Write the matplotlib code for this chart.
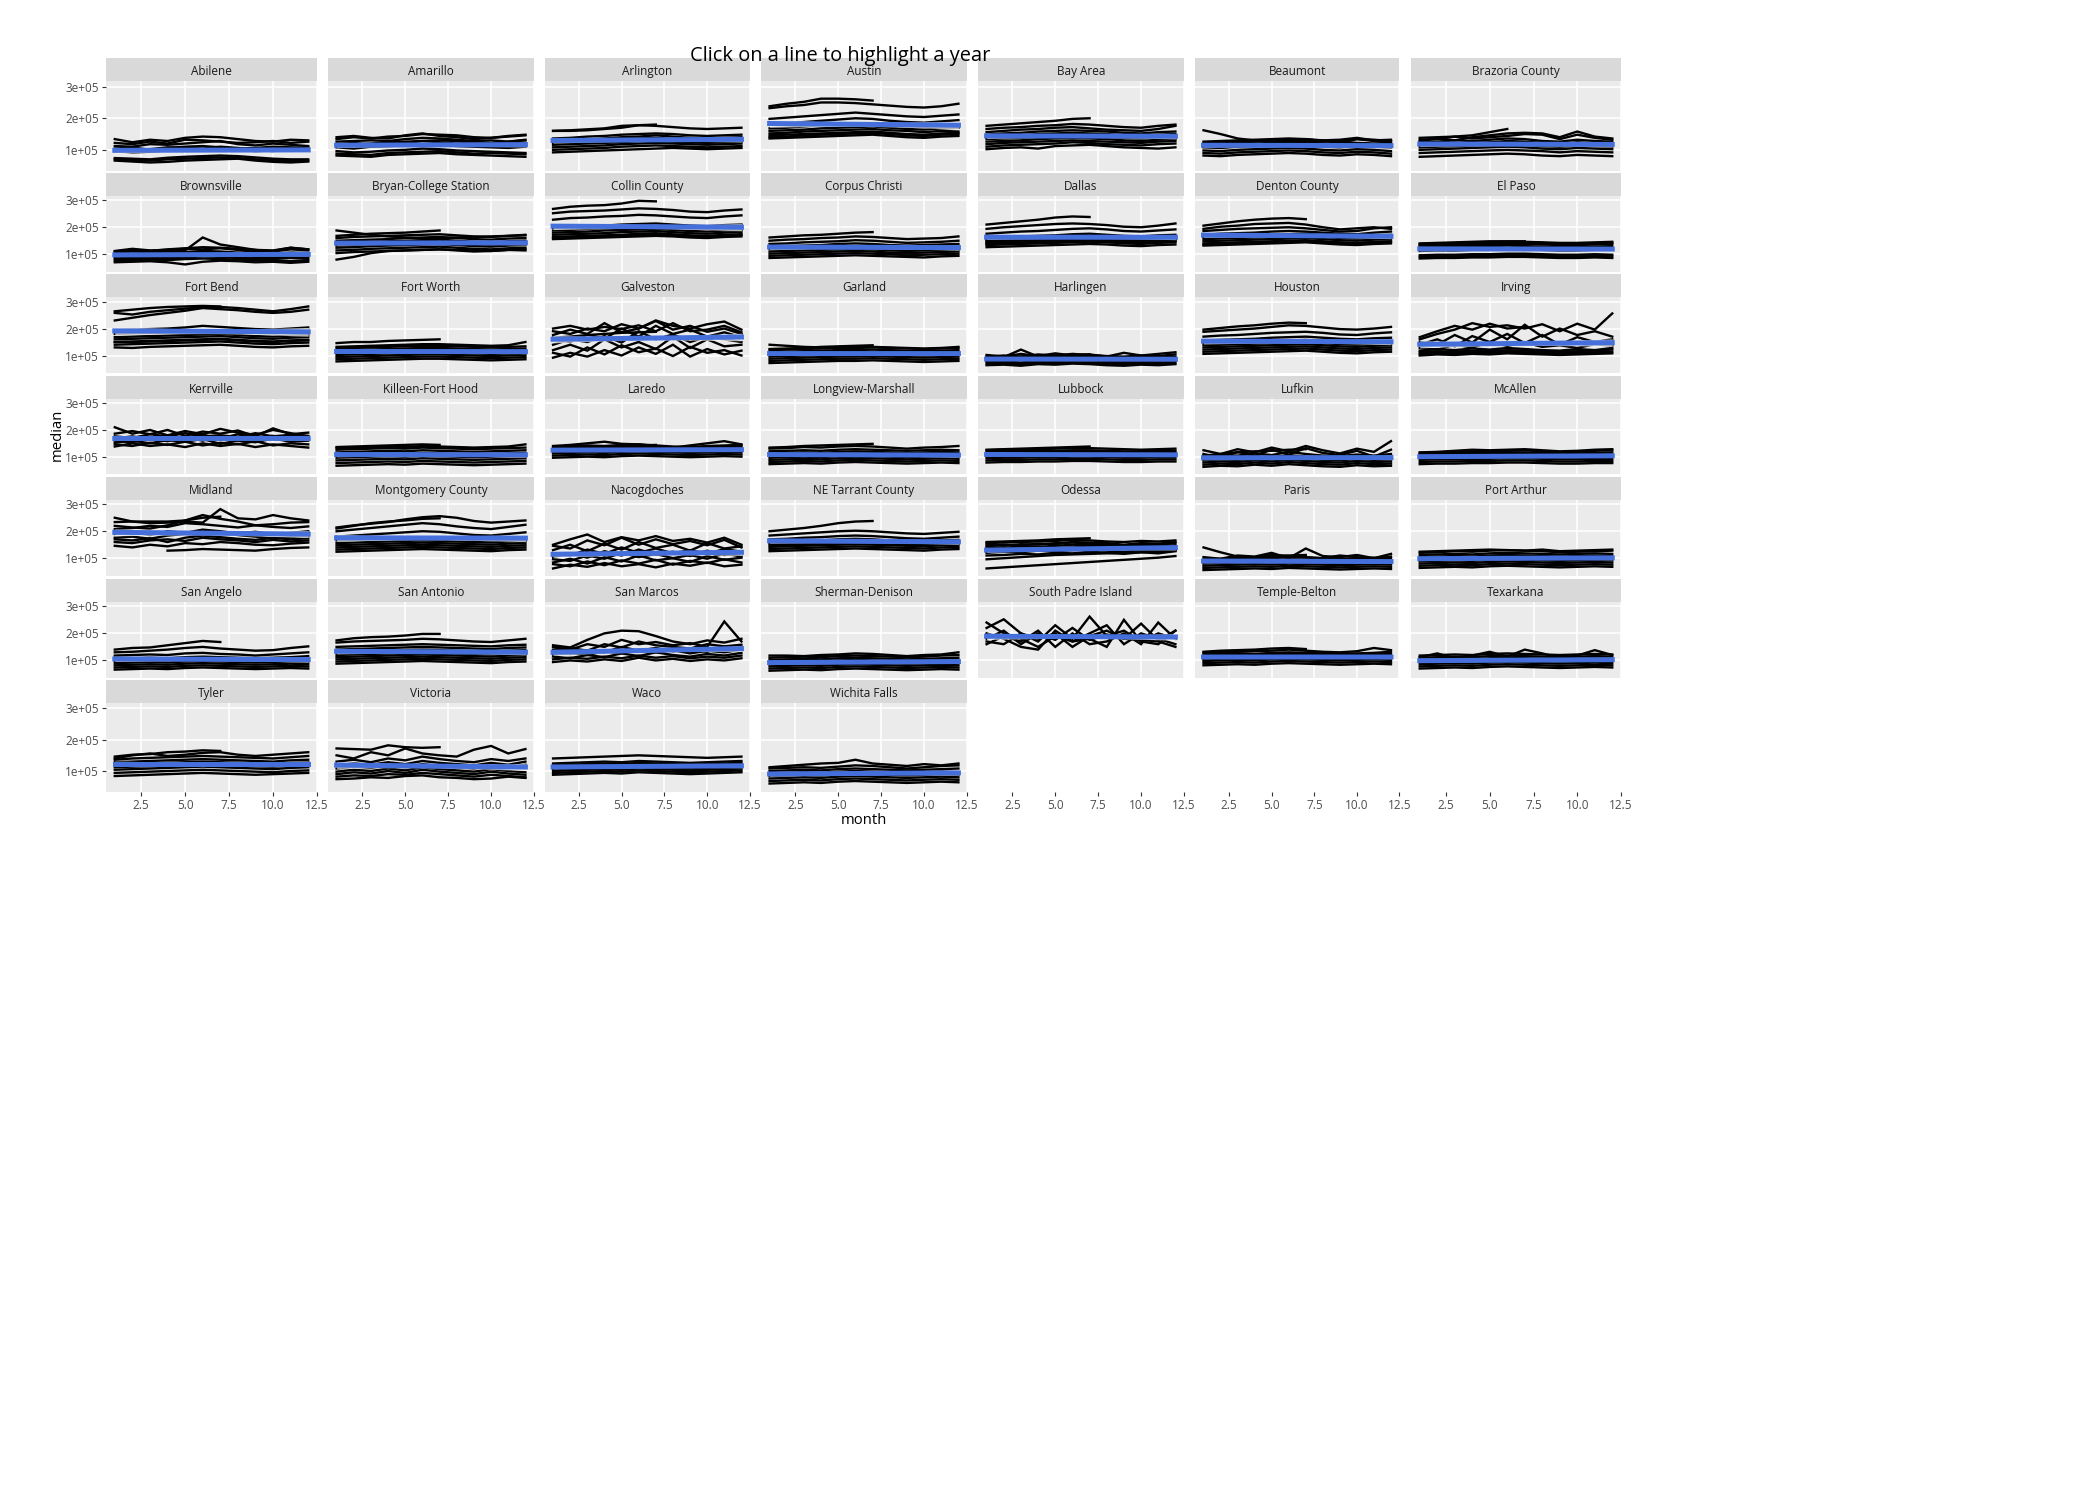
import numpy as np
import matplotlib
matplotlib.use("Agg")
import matplotlib.pyplot as plt

plt.rcParams['font.family'] = ['Open Sans', 'DejaVu Sans']

# median sale price per month, one string per year, in thousands of dollars
# ("-" = no value for that month)
abilene = [
    "66 63 60 62 66 68 70 72 66 62 60 63",
    "70 68 66 70 72 74 76 74 70 68 64 66",
    "74 72 70 75 78 80 82 80 76 72 70 70",
    "96 92 94 98 100 98 102 100 96 98 100 102",
    "104 108 100 106 110 112 108 104 106 110 108 106",
    "112 110 118 116 120 124 128 118 114 120 116 112",
    "122 118 126 120 132 130 126 122 124 128 122 126",
    "134 124 132 128 138 142 140 134 128 126 132 130",
    "100 98 102 108 106 104 110 106 100 96 104 108",
]
amarillo = [
    "82 80 78 84 86 88 90 86 84 82 80 78",
    "88 86 84 90 92 94 96 92 88 90 88 86",
    "96 92 94 98 100 104 102 98 96 94 92 90",
    "108 104 110 112 114 118 116 112 110 108 106 110",
    "118 122 116 124 126 128 124 120 122 118 120 122",
    "126 128 130 128 134 138 136 132 128 130 126 132",
    "134 140 136 142 144 150 148 146 140 138 142 146",
    "140 144 138 136 146 152 144 140 134 138 144 148",
    "116 118 120 124 122 128 130 128 124 122 126 130",
]
arlington = [
    "92 94 96 98 100 102 104 106 104 102 104 106",
    "100 102 104 106 110 112 114 112 110 108 110 112",
    "108 110 112 114 118 120 122 120 118 116 118 120",
    "116 118 120 122 124 128 130 126 124 122 124 126",
    "122 124 126 128 132 136 138 134 130 128 130 132",
    "128 130 132 136 140 142 146 142 138 136 138 140",
    "136 138 142 144 148 150 152 150 146 144 146 148",
    "160 160 162 166 170 178 176 172 168 166 168 170",
    "160 162 165 168 176 178 180",
]
austin = [
    "136 138 140 142 144 146 148 144 140 138 142 144",
    "140 142 146 148 150 152 154 150 146 144 148 150",
    "146 148 150 152 154 156 158 154 150 148 152 154",
    "152 154 158 160 162 164 166 162 160 156 160 158",
    "160 162 164 168 170 172 174 170 166 164 168 170",
    "168 170 174 178 180 184 182 178 174 172 176 178",
    "180 184 188 192 196 200 198 192 188 186 190 194",
    "198 202 206 210 214 218 214 210 206 204 208 212",
    "232 238 242 250 250 248 244 240 236 234 238 246",
    "238 246 252 262 262 260 256",
]
bay_area = [
    "102 106 108 104 112 114 116 112 108 106 104 108",
    "110 114 116 118 120 124 122 118 116 114 118 120",
    "118 122 124 126 128 130 128 126 124 122 126 128",
    "126 128 130 134 136 138 136 134 130 128 132 134",
    "134 136 138 140 144 146 144 140 138 136 140 142",
    "140 144 146 150 152 154 152 150 146 144 148 150",
    "148 152 154 158 160 162 160 158 154 152 156 158",
    "156 160 164 166 170 172 168 164 162 160 166 176",
    "166 170 172 176 178 182 180 176 172 170 176 180",
    "176 180 184 188 192 198 200",
]
beaumont = [
    "162 150 136 130 128 126 128 130 126 122 120 122",
    "82 80 84 86 88 90 88 84 82 86 84 80",
    "90 88 92 94 96 98 96 92 90 94 92 88",
    "98 96 100 102 104 106 104 100 98 102 100 96",
    "108 106 110 112 114 116 112 110 108 112 110 108",
    "116 114 118 120 122 126 124 120 116 120 118 116",
    "122 124 126 128 130 132 128 126 130 134 128 126",
    "126 128 130 132 134 136 134 130 132 138 130 132",
    "118 120 124 126 130 128 134 128 122 134 132 128",
]
brazoria = [
    "78 80 82 84 86 88 86 82 80 84 82 80",
    "90 92 94 96 98 100 98 96 92 96 94 92",
    "100 102 104 106 108 110 108 104 102 106 104 102",
    "108 110 112 114 116 118 116 112 110 114 112 110",
    "116 118 120 122 124 128 126 122 118 124 120 118",
    "124 126 130 128 132 136 134 128 126 132 128 126",
    "132 134 142 136 140 144 150 148 134 148 138 132",
    "128 136 130 140 146 152 154 152 140 158 142 136",
    "138 140 142 146 156 166",
]
brownsville = [
    "70 72 74 70 62 72 76 74 70 72 68 72",
    "76 78 80 78 82 84 82 80 78 76 74 78",
    "82 84 86 84 88 92 90 86 84 82 86 84",
    "88 90 92 90 96 100 98 94 90 88 92 90",
    "94 96 98 96 100 108 104 100 98 96 100 98",
    "100 102 104 106 108 112 110 106 104 102 106 104",
    "106 110 108 112 114 162 136 126 116 110 118 114",
    "110 116 112 118 122 126 124 120 116 114 124 118",
    "112 120 114 116 120 118 122 116 108 112 124 118",
]
bryan = [
    "80 90 104 112 114 116 118 116 114 112 116 118",
    "104 108 110 112 114 116 118 114 110 112 116 114",
    "114 116 120 122 124 126 128 124 120 118 122 124",
    "124 126 130 132 134 136 138 134 130 128 132 134",
    "132 134 138 140 142 144 146 142 138 136 140 142",
    "140 142 146 148 150 152 154 150 146 144 148 150",
    "150 152 154 156 160 162 164 160 156 154 158 160",
    "160 164 166 168 170 172 174 170 166 164 168 172",
    "168 172 176 178 180 184 188",
    "188 180 172 166 162 158 160 162 164 166 168 170",
]
collin = [
    "156 158 160 162 164 166 168 166 162 160 164 166",
    "160 162 164 166 170 172 174 170 166 164 168 172",
    "164 166 168 170 172 176 178 174 170 168 172 174",
    "172 174 176 178 182 184 186 182 178 176 180 182",
    "180 182 184 188 190 192 194 190 186 184 188 190",
    "188 190 194 196 200 202 204 200 196 194 198 200",
    "198 200 204 206 210 212 214 210 206 204 208 210",
    "228 234 236 240 242 246 244 240 236 234 240 244",
    "252 258 260 262 266 270 268 264 258 256 262 266",
    "268 276 280 282 288 298 296",
]
corpus = [
    "86 88 90 92 94 96 94 92 90 88 92 94",
    "94 96 98 100 102 104 102 100 96 98 100 102",
    "102 104 106 108 110 112 110 106 104 106 108 110",
    "110 112 114 116 118 120 118 114 112 114 116 118",
    "120 122 124 126 128 130 128 124 122 124 126 128",
    "128 130 132 134 138 140 138 134 132 134 136 138",
    "138 140 144 146 148 152 150 146 142 144 146 150",
    "150 154 156 160 162 166 164 160 156 158 160 166",
    "162 166 170 172 176 180 182",
]
dallas = [
    "126 128 130 132 134 136 138 136 132 130 134 136",
    "134 136 138 140 142 144 146 144 140 138 142 144",
    "138 140 142 144 146 148 150 148 144 142 146 148",
    "140 142 144 146 148 150 152 150 146 144 148 150",
    "146 148 150 152 154 156 158 156 152 150 154 156",
    "148 150 152 154 156 158 160 158 154 152 156 158",
    "152 154 156 158 160 162 164 162 158 156 160 162",
    "160 162 166 168 170 174 176 172 168 166 170 172",
    "176 180 184 186 190 194 196 192 186 184 188 192",
    "194 200 204 208 212 214 212 208 202 200 206 214",
    "210 216 222 228 236 240 238",
]
denton = [
    "132 134 136 138 140 142 144 140 136 134 138 140",
    "136 138 140 142 144 146 148 146 142 140 144 146",
    "140 142 144 146 148 150 152 148 144 142 146 148",
    "148 150 152 154 156 158 160 156 152 150 154 156",
    "156 158 160 162 164 166 168 164 160 158 162 164",
    "164 166 168 170 172 174 176 172 168 166 170 172",
    "172 176 178 180 184 186 184 180 176 174 180 184",
    "186 190 194 196 198 200 196 190 184 186 196 200",
    "194 202 206 212 214 216 210 200 192 196 200 194",
    "206 214 222 228 232 234 230",
]
el_paso = [
    "84 86 86 88 88 90 90 88 86 86 88 86",
    "90 92 92 94 94 96 96 94 92 92 94 92",
    "96 98 98 100 100 102 102 100 98 98 100 98",
    "112 114 114 116 116 118 118 116 114 114 116 118",
    "124 126 126 128 130 132 130 128 126 126 128 130",
    "130 132 132 134 136 138 138 136 134 134 136 138",
    "134 136 138 140 142 144 144 142 138 138 140 142",
    "138 140 140 142 144 146 146 144 142 142 144 146",
    "140 142 144 146 148 148 148",
]
fort_bend = [
    "130 128 132 134 136 138 140 136 132 130 134 136",
    "140 142 144 146 148 150 152 148 144 142 146 148",
    "150 150 152 154 156 158 160 156 152 150 154 156",
    "150 152 154 156 158 160 162 158 154 152 156 158",
    "160 162 164 166 168 170 172 168 164 162 166 168",
    "168 170 172 174 176 178 180 176 172 170 174 176",
    "180 182 184 186 188 190 192 188 184 182 186 188",
    "194 196 198 200 204 210 206 202 198 196 200 204",
    "230 240 250 258 266 276 272 268 262 258 262 270",
    "258 252 262 268 274 278 280 276 270 264 272 282",
    "264 270 276 280 282 284 282",
]
fort_worth = [
    "78 80 82 84 86 88 88 86 84 82 84 86",
    "86 88 90 92 94 96 96 94 92 90 92 94",
    "94 96 98 100 102 104 104 102 100 98 100 102",
    "102 104 106 108 110 112 112 110 108 106 108 110",
    "110 112 114 116 118 120 120 118 116 114 116 118",
    "118 120 122 124 126 128 128 126 124 122 124 126",
    "126 128 130 132 134 136 136 134 132 130 132 134",
    "132 134 136 138 140 142 142 140 138 136 138 150",
    "146 150 150 154 156 158 160",
]
galveston = [
    "92 110 96 120 100 130 106 140 96 124 104 118",
    "110 96 130 104 138 112 126 98 132 110 120 100",
    "120 140 118 160 130 150 124 170 128 160 134 140",
    "140 160 150 172 148 190 160 178 150 170 160 150",
    "160 150 178 162 200 170 210 180 196 170 186 168",
    "176 196 180 220 186 200 228 196 210 188 200 180",
    "190 180 200 190 216 200 230 210 200 216 226 196",
    "200 210 196 206 198 212 190 220 190 196 210 186",
    "166 170 176 180 184 186 188",
]
garland = [
    "72 74 76 78 80 80 82 80 78 76 78 80",
    "80 82 84 86 88 88 90 88 86 84 86 88",
    "88 90 92 94 96 96 98 96 94 92 94 96",
    "96 98 100 102 104 104 106 104 102 100 102 104",
    "104 106 108 110 112 112 114 112 110 108 110 112",
    "112 114 116 118 120 120 122 120 118 116 118 120",
    "120 122 124 126 128 128 130 128 126 124 126 128",
    "140 136 132 130 128 130 132 130 128 126 128 132",
    "124 126 128 132 134 136 138",
]
harlingen = [
    "64 66 62 68 66 70 68 64 62 66 64 68",
    "70 72 68 74 72 76 74 70 68 72 70 74",
    "76 78 74 80 78 82 80 76 74 78 76 80",
    "80 84 86 82 84 88 86 82 80 84 82 86",
    "86 88 84 90 88 92 90 86 84 88 86 90",
    "92 94 122 96 94 98 96 92 90 94 92 96",
    "96 100 96 104 100 106 102 98 96 100 98 104",
    "102 96 106 98 108 100 104 96 110 100 106 112",
    "90 92 96 98 100 102 104",
]
houston = [
    "106 108 110 112 114 116 118 114 110 108 112 114",
    "114 116 118 120 122 124 126 122 118 116 120 122",
    "122 124 126 128 130 132 134 130 126 124 128 130",
    "130 132 134 136 138 140 142 138 134 132 136 138",
    "138 140 142 144 146 148 150 146 142 140 144 146",
    "146 148 150 152 154 156 158 154 150 148 152 154",
    "156 158 160 162 166 168 170 166 162 160 164 166",
    "170 174 176 180 184 186 188 184 178 176 182 186",
    "188 192 196 200 206 212 210 204 198 196 200 206",
    "196 202 208 212 218 222 220",
]
irving = [
    "100 104 102 106 104 108 106 104 102 104 106 108",
    "106 110 108 112 110 114 112 110 108 110 112 114",
    "112 116 114 118 116 120 118 116 114 116 118 122",
    "118 124 120 126 122 128 124 120 118 124 120 128",
    "128 122 140 130 150 136 148 132 138 128 142 136",
    "140 160 134 172 150 180 146 176 140 168 150 160",
    "150 140 176 148 196 160 214 170 200 176 190 170",
    "160 180 196 220 206 212 200 216 190 218 196 256",
    "168 190 210 196 218 200 206",
]
kerrville = [
    "138 150 140 146 136 150 140 148 136 146 140 134",
    "146 140 152 144 156 142 152 146 158 142 150 146",
    "152 160 150 162 156 166 148 160 154 168 156 160",
    "160 154 168 158 172 160 176 166 162 170 160 166",
    "168 176 164 178 170 182 168 184 172 178 166 174",
    "176 170 184 176 188 176 180 174 188 176 182 178",
    "210 186 200 180 196 184 204 190 182 200 188 176",
    "186 196 184 200 178 194 186 198 176 206 184 190",
]
killeen = [
    "66 68 70 72 70 74 72 70 68 70 72 74",
    "76 78 80 82 80 84 82 80 78 80 82 84",
    "86 88 90 92 90 94 92 90 88 90 92 94",
    "96 98 100 102 100 104 102 100 98 100 102 104",
    "106 108 110 112 110 114 112 110 108 110 112 114",
    "116 118 120 122 120 124 122 120 118 120 122 124",
    "126 128 130 132 130 134 132 130 128 130 132 134",
    "132 134 136 138 136 140 138 136 134 136 138 146",
    "136 138 140 142 144 146 144",
]
laredo = [
    "96 98 100 98 102 104 102 100 98 100 102 100",
    "104 106 108 106 110 112 110 108 106 108 110 108",
    "112 114 116 114 118 120 118 116 114 116 118 116",
    "118 120 122 120 124 126 124 122 120 122 124 126",
    "124 126 128 126 130 132 130 128 126 128 130 132",
    "130 132 134 132 136 138 136 132 130 134 136 138",
    "136 140 142 140 144 146 142 138 136 140 142 144",
    "140 144 150 156 148 146 140 134 142 150 158 146",
    "128 132 136 138 140 142 144",
]
longview = [
    "72 74 76 74 78 80 78 76 74 76 78 76",
    "80 82 84 82 86 88 86 84 82 84 86 84",
    "88 90 92 90 94 96 94 92 90 92 94 92",
    "96 98 100 98 102 104 102 100 98 100 102 100",
    "104 106 108 106 110 112 110 108 106 108 110 108",
    "112 114 116 114 118 120 118 116 114 116 118 116",
    "120 122 124 122 126 128 126 124 122 124 126 124",
    "130 132 136 134 138 140 138 134 130 134 136 140",
    "134 136 140 142 144 146 148",
]
lubbock = [
    "78 80 80 82 82 84 84 82 80 80 82 82",
    "86 88 88 90 90 92 92 90 88 88 90 90",
    "94 96 96 98 98 100 100 98 96 96 98 98",
    "100 102 102 104 104 106 106 104 102 102 104 104",
    "106 108 108 110 110 112 112 110 108 108 110 110",
    "112 114 114 116 116 118 118 116 114 114 116 116",
    "118 120 120 122 122 124 124 122 120 120 122 122",
    "124 126 126 128 130 132 132 130 128 126 128 130",
    "126 128 130 132 134 136 138",
]
lufkin = [
    "62 66 64 70 66 72 68 64 62 68 64 66",
    "70 74 72 78 74 80 76 72 70 76 72 74",
    "78 82 80 86 82 88 84 80 78 84 80 82",
    "86 90 88 94 90 96 92 88 86 92 88 90",
    "94 98 96 102 98 106 100 96 94 100 96 98",
    "102 106 104 112 106 118 110 104 102 108 104 110",
    "110 96 118 104 126 108 132 114 106 122 100 126",
    "124 110 128 116 134 120 140 124 112 130 118 158",
    "104 110 116 120 122 126 128",
]
mcallen = [
    "72 74 74 76 76 78 78 76 74 74 76 76",
    "80 82 82 84 84 86 86 84 82 82 84 84",
    "88 90 90 92 92 94 94 92 90 90 92 92",
    "96 98 98 100 100 102 102 100 98 98 100 100",
    "104 106 106 108 108 110 110 108 106 106 108 108",
    "110 112 112 114 114 116 116 114 112 112 114 116",
    "114 116 118 120 118 122 124 120 116 118 122 124",
    "116 118 122 126 124 126 128 124 120 122 126 128",
]
midland = [
    "146 140 150 144 156 152 160 156 150 148 154 158",
    "160 156 166 170 164 176 170 166 160 168 162 166",
    "170 166 174 160 176 184 178 172 168 176 170 174",
    "176 180 172 184 190 186 194 186 180 174 178 184",
    "190 196 186 200 194 206 200 192 198 188 194 200",
    "208 212 220 216 230 226 220 214 222 216 212 218",
    "250 236 230 232 236 232 282 248 244 260 248 240",
    "220 214 210 222 240 260 246 236 222 226 232 234",
    "234 236 236 236 240 250 254",
    "- - - 128 130 134 132 130 128 134 138 140",
]
montgomery = [
    "124 126 128 130 132 134 132 130 128 126 130 132",
    "132 134 136 138 140 142 140 138 136 134 138 140",
    "140 142 144 146 148 150 148 146 144 142 146 148",
    "148 150 152 154 156 158 156 154 152 150 154 156",
    "156 158 160 162 164 166 164 162 160 158 162 164",
    "166 168 170 172 174 178 176 172 168 166 170 174",
    "180 184 188 192 196 200 198 192 186 184 190 196",
    "200 206 212 218 224 230 226 218 212 208 216 224",
    "214 222 228 234 244 252 256 250 238 232 236 240",
    "210 220 230 236 240 246 248",
]
nacogdoches = [
    "62 76 68 82 70 78 66 80 72 84 70 76",
    "78 70 88 74 92 80 94 76 90 82 96 84",
    "84 98 80 104 88 110 92 100 86 108 94 102",
    "96 90 110 98 120 104 116 100 112 98 118 106",
    "104 118 102 126 110 132 114 124 108 128 112 120",
    "114 110 132 116 140 120 136 118 130 116 134 124",
    "130 150 126 154 132 160 138 150 128 156 136 144",
    "146 136 166 148 176 150 170 152 164 148 168 140",
    "150 170 188 160 178 166 182 164 172 158 176 150",
]
ne_tarrant = [
    "126 128 130 132 134 136 134 132 130 128 132 134",
    "134 136 138 140 142 144 142 140 138 136 140 142",
    "142 144 146 148 150 152 150 148 146 144 148 150",
    "148 150 152 154 156 158 156 154 152 150 154 156",
    "154 156 158 160 162 164 162 160 158 156 160 162",
    "160 162 164 166 170 172 170 166 164 162 166 168",
    "170 172 176 178 182 184 182 178 174 172 176 180",
    "184 188 192 196 200 202 200 196 192 190 194 198",
    "200 206 212 220 230 236 238",
]
odessa = [
    "62 66 70 74 78 82 86 90 94 98 102 108",
    "96 100 104 108 112 114 116 118 120 122 124 128",
    "110 112 116 114 120 118 124 120 116 122 118 126",
    "120 124 122 128 126 130 132 128 124 130 128 132",
    "130 132 136 134 138 140 142 138 136 140 138 142",
    "140 138 144 142 146 150 148 144 142 146 144 148",
    "150 146 152 150 156 158 154 150 148 152 150 156",
    "156 158 160 162 164 168 166 162 160 164 162 166",
    "160 162 164 166 170 172 174",
    "144 150 148 154 152 160 158 156 150 156 154 160",
]
paris = [
    "56 58 60 62 60 64 62 60 58 60 62 60",
    "64 66 68 70 68 72 70 68 66 68 70 68",
    "72 74 76 78 76 80 78 76 74 76 78 76",
    "80 82 84 86 84 88 86 84 82 84 86 84",
    "88 90 92 94 92 96 94 92 90 92 94 92",
    "96 98 100 102 100 104 102 100 98 100 102 100",
    "140 122 106 104 112 108 104 100 110 104 98 106",
    "104 98 110 106 120 100 136 108 104 112 100 116",
    "92 96 100 104 108 110 112",
]
port_arthur = [
    "64 66 68 66 70 72 70 68 66 68 70 68",
    "72 74 76 74 78 80 78 76 74 76 78 76",
    "80 82 84 82 86 88 86 84 82 84 86 84",
    "88 90 92 90 94 96 94 92 90 92 94 92",
    "96 98 100 98 102 104 102 100 98 100 102 100",
    "104 106 108 106 110 112 110 108 106 108 110 108",
    "112 114 116 114 118 120 118 116 114 116 118 116",
    "120 122 126 124 128 130 128 126 122 124 126 128",
    "124 126 128 130 132 130 128 132 126 128 130 132",
]
san_angelo = [
    "66 68 70 68 72 74 72 70 68 70 72 70",
    "74 76 78 76 80 82 80 78 76 78 80 78",
    "82 84 86 84 88 90 88 86 84 86 88 86",
    "90 92 94 92 96 98 96 94 92 94 96 94",
    "98 100 102 100 104 106 104 102 100 102 104 102",
    "106 108 110 108 112 114 112 110 108 110 112 116",
    "118 120 122 120 126 128 124 122 118 122 126 130",
    "130 132 136 140 146 150 144 140 136 138 146 152",
    "140 146 148 156 164 172 168",
]
san_antonio = [
    "88 90 92 94 96 98 96 94 92 90 94 96",
    "96 98 100 102 104 106 104 102 100 98 102 104",
    "104 106 108 110 112 114 112 110 108 106 110 112",
    "112 114 116 118 120 122 120 118 116 114 118 120",
    "120 122 124 126 128 130 128 126 124 122 126 128",
    "130 132 134 136 138 140 138 136 134 132 136 138",
    "140 142 144 146 148 150 148 146 144 142 146 148",
    "150 152 154 156 158 160 158 156 154 152 156 158",
    "166 170 172 174 176 180 178 174 170 168 174 180",
    "174 182 186 188 192 198 198",
]
san_marcos = [
    "94 100 96 104 98 110 100 106 98 104 100 108",
    "104 110 106 114 108 118 110 116 108 114 110 118",
    "114 108 120 112 126 116 130 120 114 124 118 128",
    "122 128 120 134 126 140 130 138 126 136 130 140",
    "130 124 138 130 150 136 146 134 140 132 150 144",
    "140 146 136 160 148 170 156 150 144 160 152 158",
    "150 140 160 150 176 160 168 156 164 150 244 170",
    "156 148 176 200 210 208 190 170 160 174 166 180",
]
sherman = [
    "62 64 66 64 68 70 68 66 64 66 68 66",
    "70 72 74 72 76 78 76 74 72 74 76 74",
    "78 80 82 80 84 86 84 82 80 82 84 82",
    "86 88 90 88 92 94 92 90 88 90 92 90",
    "94 96 98 96 100 102 100 98 96 98 100 98",
    "102 104 106 104 108 110 108 106 104 106 108 110",
    "110 112 114 112 116 118 116 114 112 114 118 120",
    "118 118 116 120 122 126 124 120 116 120 122 130",
]
south_padre = [
    "220 252 200 170 230 180 262 190 210 170 200 180",
    "180 210 160 200 176 220 176 196 180 236 174 210",
    "240 200 180 150 190 170 200 230 160 200 180 160",
    "160 190 170 210 150 200 160 170 200 160 240 180",
    "200 180 150 140 210 170 180 150 250 170 160 210",
    "170 160 200 180 200 150 190 210 180 176 170 150",
]
temple = [
    "82 84 86 84 88 90 88 86 84 86 88 86",
    "90 92 94 92 96 98 96 94 92 94 96 94",
    "98 100 102 100 104 106 104 102 100 102 104 102",
    "104 106 108 106 110 112 110 108 106 108 110 108",
    "110 112 114 112 116 118 116 114 112 114 116 114",
    "116 118 120 118 122 124 122 120 118 120 122 124",
    "122 124 126 124 128 130 128 126 124 126 128 132",
    "128 130 132 134 136 140 136 132 130 134 146 138",
    "132 136 138 140 144 146 142",
]
texarkana = [
    "70 72 74 72 76 78 76 74 72 74 76 74",
    "78 80 82 80 84 86 84 82 80 82 84 82",
    "86 88 90 88 92 94 92 90 88 90 92 90",
    "94 96 98 96 100 102 100 98 96 98 100 98",
    "102 104 106 104 108 110 108 106 104 106 108 106",
    "110 112 114 112 116 118 116 114 112 114 116 114",
    "118 120 122 120 124 126 124 122 120 122 124 122",
    "112 126 108 118 132 114 140 126 110 118 138 120",
]
tyler = [
    "84 86 88 90 92 94 92 90 88 90 92 94",
    "94 96 98 100 102 104 102 100 98 96 100 102",
    "104 106 108 110 112 114 112 110 108 106 110 112",
    "112 114 116 118 120 122 120 118 116 114 118 120",
    "120 122 124 126 128 130 128 126 124 122 126 128",
    "128 130 132 134 136 138 136 134 132 130 134 136",
    "136 140 142 144 146 148 146 144 142 140 144 148",
    "140 150 156 148 152 158 160 152 148 152 156 160",
    "146 152 154 160 162 166 164",
]
victoria = [
    "74 76 80 78 84 86 80 78 74 76 82 78",
    "82 86 84 90 88 94 90 86 82 88 84 80",
    "90 96 92 100 94 104 98 94 90 98 92 88",
    "98 104 100 108 102 112 106 102 98 106 100 96",
    "108 114 110 118 112 122 116 112 108 116 110 120",
    "118 124 120 128 122 132 126 122 118 126 120 130",
    "130 136 128 140 134 146 138 132 128 138 132 140",
    "150 140 160 150 172 156 150 146 168 180 156 170",
    "172 170 168 182 176 174 176",
]
waco = [
    "88 90 92 94 92 96 94 92 90 92 94 96",
    "94 96 98 100 98 102 100 98 96 98 100 102",
    "100 102 104 106 104 108 106 104 102 104 106 108",
    "106 108 110 112 110 114 112 110 108 110 112 114",
    "112 114 116 118 116 120 118 116 114 116 118 120",
    "118 120 122 124 122 126 124 122 120 122 124 126",
    "124 126 128 130 128 132 130 128 126 128 130 132",
    "140 142 144 146 148 150 148 146 144 142 144 146",
]
wichita = [
    "60 62 64 62 66 68 66 64 62 64 66 64",
    "68 70 72 70 74 76 74 72 70 72 74 72",
    "76 78 80 78 82 84 82 80 78 80 82 80",
    "84 86 88 86 90 92 90 88 86 88 90 88",
    "92 94 96 94 98 100 98 96 94 96 98 96",
    "100 102 104 102 106 108 106 104 102 104 106 108",
    "108 110 112 110 114 118 116 112 108 112 116 118",
    "112 116 120 124 126 136 124 120 116 122 118 124",
]

cities = ["Abilene", "Amarillo", "Arlington", "Austin", "Bay Area", "Beaumont",
          "Brazoria County", "Brownsville", "Bryan-College Station", "Collin County",
          "Corpus Christi", "Dallas", "Denton County", "El Paso", "Fort Bend",
          "Fort Worth", "Galveston", "Garland", "Harlingen", "Houston", "Irving",
          "Kerrville", "Killeen-Fort Hood", "Laredo", "Longview-Marshall", "Lubbock",
          "Lufkin", "McAllen", "Midland", "Montgomery County", "Nacogdoches",
          "NE Tarrant County", "Odessa", "Paris", "Port Arthur", "San Angelo",
          "San Antonio", "San Marcos", "Sherman-Denison", "South Padre Island",
          "Temple-Belton", "Texarkana", "Tyler", "Victoria", "Waco", "Wichita Falls"]
series = [abilene, amarillo, arlington, austin, bay_area, beaumont, brazoria,
          brownsville, bryan, collin, corpus, dallas, denton, el_paso, fort_bend,
          fort_worth, galveston, garland, harlingen, houston, irving, kerrville,
          killeen, laredo, longview, lubbock, lufkin, mcallen, midland, montgomery,
          nacogdoches, ne_tarrant, odessa, paris, port_arthur, san_angelo,
          san_antonio, san_marcos, sherman, south_padre, temple, texarkana, tyler,
          victoria, waco, wichita]

x_ticks = [2.5, 5.0, 7.5, 10.0, 12.5]
x_labels = ["2.5", "5.0", "7.5", "10.0", "12.5"]
y_ticks = [1e5, 2e5, 3e5]
y_labels = ["1e+05", "2e+05", "3e+05"]

# panel geometry in pixels (figure is 2100 x 1500)
W, H = 2100, 1500
col_left = [106, 328, 544.5, 761, 978, 1195, 1411]
col_right = [317, 534, 750, 967, 1184, 1399.5, 1621]
strip_top = [58.3, 172.7, 274, 375.7, 476.7, 578.7, 680]
strip_h = 23
panel_bottom = [170.7, 272, 373.3, 474.3, 576, 678.3, 791.7]

PANEL_BG = '#EBEBEB'
STRIP_BG = '#D9D9D9'
BLUE = '#4570DC'


def parse(rows):
    out = []
    for r in rows:
        vals = [np.nan if v == '-' else float(v) * 1000 for v in r.split()]
        out.append(np.array(vals))
    return out


def px_axes(x0, x1, top, bottom):
    return fig.add_axes([x0 / W, 1 - bottom / H, (x1 - x0) / W, (bottom - top) / H])


def style_ticks(ax):
    ax.tick_params(axis='both', length=3, width=0.8, color='#333333',
                   labelsize=8.5, labelcolor='#4D4D4D', pad=2)


fig = plt.figure(figsize=(21, 15), dpi=100)

for i, (name, rows) in enumerate(zip(cities, series)):
    r, c = divmod(i, 7)
    x0, x1 = col_left[c], col_right[c]
    top = strip_top[r]

    # strip
    sax = px_axes(x0, x1, top, top + strip_h)
    sax.set_facecolor(STRIP_BG)
    sax.set_xticks([])
    sax.set_yticks([])
    for s in sax.spines.values():
        s.set_visible(False)
    sax.text(0.5, 0.42, name, ha='center', va='center', fontsize=8.5,
             color='#1A1A1A', transform=sax.transAxes)

    # panel
    ax = px_axes(x0, x1, top + strip_h, panel_bottom[r])
    ax.set_facecolor(PANEL_BG)
    for s in ax.spines.values():
        s.set_visible(False)
    ax.set_xlim(0.5, 12.5)
    ax.set_ylim(34000, 317000)
    ax.set_xticks(x_ticks)
    ax.set_yticks(y_ticks)
    ax.grid(True, color='white', linewidth=1.1)
    ax.set_axisbelow(True)
    style_ticks(ax)

    if c == 0:
        ax.set_yticklabels(y_labels)
    else:
        ax.tick_params(left=False, labelleft=False)
    if r == 6:
        ax.set_xticklabels(x_labels)
    else:
        ax.tick_params(bottom=False, labelbottom=False)

    lines = parse(rows)
    xs_all, ys_all = [], []
    for y in lines:
        m = np.arange(1, len(y) + 1)
        ax.plot(m, y, color='black', linewidth=1.7, solid_joinstyle='miter')
        ok = ~np.isnan(y)
        xs_all.append(m[ok])
        ys_all.append(y[ok])

    # linear smooth with confidence band, as geom_smooth(method = "lm")
    xa = np.concatenate(xs_all)
    ya = np.concatenate(ys_all)
    b, a = np.polyfit(xa, ya, 1)
    resid = ya - (a + b * xa)
    n = len(xa)
    s = np.sqrt(np.sum(resid ** 2) / (n - 2))
    xg = np.linspace(1, 12, 50)
    fit = a + b * xg
    se = s * np.sqrt(1 / n + (xg - xa.mean()) ** 2 / np.sum((xa - xa.mean()) ** 2))
    ax.fill_between(xg, fit - 1.97 * se, fit + 1.97 * se, color='#F2F2F2',
                    alpha=0.75, linewidth=0, zorder=3)
    ax.plot(xg, fit, color=BLUE, linewidth=3.6, zorder=4)

# x tick labels under the empty slots of the last row
for c in range(4, 7):
    ax = px_axes(col_left[c], col_right[c], strip_top[6] + strip_h, panel_bottom[6])
    ax.patch.set_visible(False)
    for s in ax.spines.values():
        s.set_visible(False)
    ax.set_xlim(0.5, 12.5)
    ax.set_xticks(x_ticks)
    ax.set_xticklabels(x_labels)
    ax.set_yticks([])
    style_ticks(ax)

fig.text(840 / W, 1 - 56 / H, "Click on a line to highlight a year",
         ha='center', va='center', fontsize=14.4, color='black')
fig.text(864 / W, 1 - 821 / H, "month", ha='center', va='center',
         fontsize=10.7, color='black')
fig.text(57 / W, 1 - 435 / H, "median", ha='center', va='center',
         rotation=90, fontsize=10.7, color='black')

fig.savefig("out.png", dpi=100, facecolor='white')
